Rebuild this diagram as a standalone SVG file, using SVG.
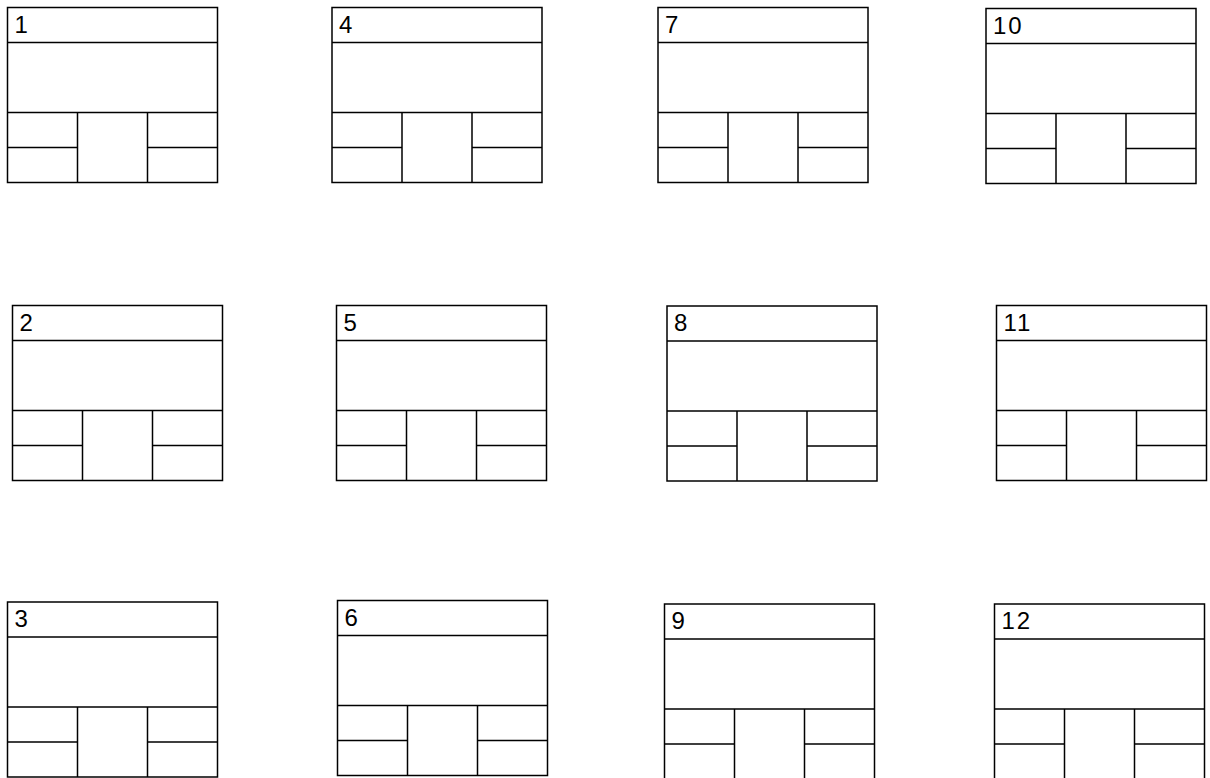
<svg xmlns="http://www.w3.org/2000/svg" width="1210" height="778" viewBox="0 0 1210 778">
<defs>
<style>
.box { fill: #fff; stroke: #000; stroke-width: 1.5; }
.div { fill: none; stroke: #000; stroke-width: 1.5; }
.lbl { font-family: "Liberation Sans", Arial, sans-serif; font-size: 24px; fill: #000; letter-spacing: 2px; }
</style>
<g id="tpl">
<rect class="box" x="0" y="0" width="210" height="175"/>
<path class="div" d="M0 35H210M0 105H210M0 140H70M140 140H210M70 105V175M140 105V175"/>
</g>
</defs>
<rect width="1210" height="778" fill="#fff"/>
<g id="connectors"></g>
<g id="node1" transform="translate(7.5,7.5)"><use href="#tpl"/><text class="lbl" x="7" y="25">1</text></g>
<g id="node4" transform="translate(332,7.5)"><use href="#tpl"/><text class="lbl" x="7" y="25">4</text></g>
<g id="node7" transform="translate(658,7.5)"><use href="#tpl"/><text class="lbl" x="7" y="25">7</text></g>
<g id="node10" transform="translate(986,8.5)"><use href="#tpl"/><text class="lbl" x="7" y="25">10</text></g>
<g id="node2" transform="translate(12.5,305.5)"><use href="#tpl"/><text class="lbl" x="7" y="25">2</text></g>
<g id="node5" transform="translate(336.5,305.5)"><use href="#tpl"/><text class="lbl" x="7" y="25">5</text></g>
<g id="node8" transform="translate(667,306)"><use href="#tpl"/><text class="lbl" x="7" y="25">8</text></g>
<g id="node11" transform="translate(996.5,305.5)"><use href="#tpl"/><text class="lbl" x="7" y="25">11</text></g>
<g id="node3" transform="translate(7.5,602)"><use href="#tpl"/><text class="lbl" x="7" y="25">3</text></g>
<g id="node6" transform="translate(337.5,600.5)"><use href="#tpl"/><text class="lbl" x="7" y="25">6</text></g>
<g id="node9" transform="translate(664.5,604)"><use href="#tpl"/><text class="lbl" x="7" y="25">9</text></g>
<g id="node12" transform="translate(994.5,604)"><use href="#tpl"/><text class="lbl" x="7" y="25">12</text></g>
</svg>
